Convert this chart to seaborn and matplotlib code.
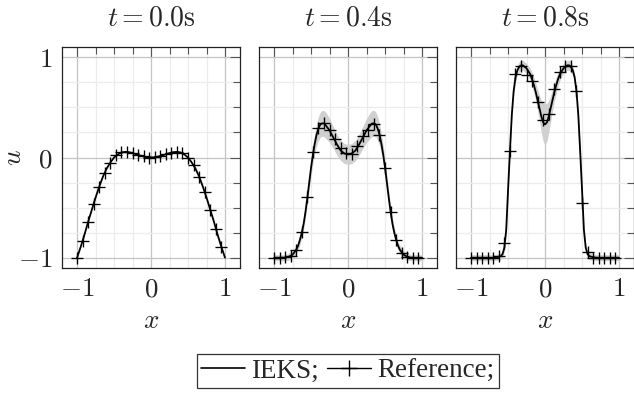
import numpy as np
import pandas as pd
import matplotlib
matplotlib.use("Agg")
import matplotlib.pyplot as plt
import seaborn as sns
from matplotlib.lines import Line2D
from matplotlib.ticker import MultipleLocator

# ==========================================================
# DATA
# ==========================================================

titles = [r"$t = 0.0\mathrm{s}$", r"$t = 0.4\mathrm{s}$", r"$t = 0.8\mathrm{s}$"]

# IEKS mean, t = 0.0s
x_t0 = [-1.0, -0.95, -0.9, -0.85, -0.8, -0.75, -0.7, -0.65, -0.6, -0.55, -0.5,
        -0.45, -0.4, -0.35, -0.3, -0.25, -0.2, -0.15, -0.1, -0.05, 0.0,
        0.05, 0.1, 0.15, 0.2, 0.25, 0.3, 0.35, 0.4, 0.45, 0.5,
        0.55, 0.6, 0.65, 0.7, 0.75, 0.8, 0.85, 0.9, 0.95, 1.0]
u_t0 = [-1.0, -0.89, -0.77, -0.64, -0.52, -0.4, -0.29, -0.19, -0.11, -0.05, 0.0,
        0.03, 0.05, 0.056, 0.053, 0.044, 0.032, 0.02, 0.01, 0.002, 0.0,
        0.002, 0.01, 0.02, 0.032, 0.044, 0.053, 0.056, 0.05, 0.03, 0.0,
        -0.05, -0.11, -0.19, -0.29, -0.4, -0.52, -0.64, -0.77, -0.89, -1.0]

# IEKS mean and band half-width, t = 0.4s
x_t4 = [-1.0, -0.95, -0.9, -0.85, -0.8, -0.75, -0.7, -0.675, -0.65, -0.625, -0.6,
        -0.575, -0.55, -0.525, -0.5, -0.475, -0.45, -0.425, -0.4, -0.375, -0.35,
        -0.325, -0.3, -0.25, -0.2, -0.15, -0.1, -0.05, 0.0,
        0.05, 0.1, 0.15, 0.2, 0.25, 0.3, 0.325, 0.35, 0.375, 0.4, 0.425, 0.45,
        0.475, 0.5, 0.525, 0.55, 0.575, 0.6, 0.625, 0.65, 0.675, 0.7, 0.75,
        0.8, 0.85, 0.9, 0.95, 1.0]
u_t4 = [-1.0, -1.0, -1.0, -1.0, -0.99, -0.97, -0.92, -0.88, -0.82, -0.75, -0.66,
        -0.54, -0.4, -0.25, -0.1, 0.03, 0.14, 0.23, 0.29, 0.33, 0.34,
        0.34, 0.32, 0.27, 0.2, 0.13, 0.07, 0.04, 0.03,
        0.04, 0.07, 0.13, 0.2, 0.27, 0.32, 0.34, 0.34, 0.33, 0.29, 0.23, 0.14,
        0.03, -0.1, -0.25, -0.4, -0.54, -0.66, -0.75, -0.82, -0.88, -0.92, -0.97,
        -0.99, -1.0, -1.0, -1.0, -1.0]
s_t4 = [0.03, 0.03, 0.03, 0.03, 0.035, 0.04, 0.045, 0.045, 0.05, 0.05, 0.055,
        0.06, 0.065, 0.07, 0.08, 0.09, 0.1, 0.11, 0.12, 0.125, 0.13,
        0.13, 0.13, 0.12, 0.11, 0.105, 0.1, 0.1, 0.1,
        0.1, 0.1, 0.105, 0.11, 0.12, 0.13, 0.13, 0.13, 0.125, 0.12, 0.11, 0.1,
        0.09, 0.08, 0.07, 0.065, 0.06, 0.055, 0.05, 0.05, 0.045, 0.045, 0.04,
        0.035, 0.03, 0.03, 0.03, 0.03]

# IEKS mean and band half-width, t = 0.8s
x_t8 = [-1.0, -0.9, -0.8, -0.7, -0.65, -0.6, -0.575, -0.55, -0.525, -0.5,
        -0.475, -0.45, -0.425, -0.4, -0.375, -0.35, -0.325, -0.3, -0.25, -0.2,
        -0.175, -0.15, -0.125, -0.1, -0.075, -0.05, -0.025, 0.0,
        0.025, 0.05, 0.075, 0.1, 0.125, 0.15, 0.175, 0.2, 0.25, 0.3, 0.325,
        0.35, 0.375, 0.4, 0.425, 0.45, 0.475, 0.5, 0.525, 0.55, 0.575, 0.6,
        0.65, 0.7, 0.8, 0.9, 1.0]
u_t8 = [-1.0, -1.0, -1.0, -1.0, -0.995, -0.985, -0.965, -0.9, -0.72, -0.32,
        0.06, 0.42, 0.66, 0.8, 0.87, 0.905, 0.92, 0.92, 0.89, 0.83,
        0.78, 0.72, 0.65, 0.57, 0.49, 0.41, 0.35, 0.33,
        0.35, 0.41, 0.49, 0.57, 0.65, 0.72, 0.78, 0.83, 0.89, 0.92, 0.92,
        0.905, 0.87, 0.8, 0.66, 0.42, 0.06, -0.32, -0.72, -0.9, -0.965, -0.985,
        -0.995, -1.0, -1.0, -1.0, -1.0]
s_t8 = [0.03, 0.03, 0.03, 0.03, 0.03, 0.035, 0.035, 0.04, 0.04, 0.045,
        0.045, 0.045, 0.045, 0.045, 0.045, 0.05, 0.05, 0.05, 0.05, 0.06,
        0.07, 0.08, 0.09, 0.11, 0.13, 0.16, 0.19, 0.21,
        0.19, 0.16, 0.13, 0.11, 0.09, 0.08, 0.07, 0.06, 0.05, 0.05, 0.05,
        0.05, 0.045, 0.045, 0.045, 0.045, 0.045, 0.045, 0.04, 0.04, 0.035, 0.035,
        0.03, 0.03, 0.03, 0.03, 0.03]

# Reference solution (marks)
x_ref = [-1.0, -0.925, -0.85, -0.775, -0.7, -0.625, -0.55, -0.475, -0.4,
         -0.325, -0.25, -0.175, -0.1, -0.025, 0.05, 0.125, 0.2, 0.275, 0.35,
         0.425, 0.5, 0.575, 0.65, 0.725, 0.8, 0.875, 0.95]
ref_t0 = [-1.0, -0.83, -0.64, -0.46, -0.29, -0.15, -0.05, 0.02, 0.05,
          0.055, 0.044, 0.026, 0.01, 0.0, 0.003, 0.014, 0.032, 0.049, 0.056,
          0.042, 0.0, -0.077, -0.19, -0.34, -0.52, -0.71, -0.89]
ref_t4 = [-1.0, -1.0, -0.99, -0.98, -0.92, -0.74, -0.39, 0.05, 0.29,
          0.34, 0.27, 0.18, 0.09, 0.04, 0.03, 0.11, 0.21, 0.27, 0.33,
          0.22, -0.1, -0.54, -0.82, -0.95, -0.99, -1.0, -1.0]
ref_t8 = [-1.0, -1.0, -1.0, -1.0, -1.0, -0.98, -0.85, 0.06, 0.83,
          0.91, 0.82, 0.76, 0.55, 0.37, 0.43, 0.68, 0.85, 0.91, 0.91,
          0.66, -0.45, -0.94, -1.0, -1.0, -1.0, -1.0, -1.0]

lines = [(x_t0, u_t0, None), (x_t4, u_t4, s_t4), (x_t8, u_t8, s_t8)]
refs = [ref_t0, ref_t4, ref_t8]

# ==========================================================
# STYLE
# ==========================================================

sns.set_style("white")
plt.rcParams["font.family"] = ["Liberation Serif", "DejaVu Serif"]
plt.rcParams["mathtext.fontset"] = "cm"
FS = 19.5

W, H = 634, 398
fig = plt.figure(figsize=(W / 100, H / 100), dpi=100)

lefts = [62.3, 259.3, 456.3]
ax_w = 177.5
ax_top, ax_bot = 47.3, 267.7

# ==========================================================
# PANELS
# ==========================================================

for i, (left, title) in enumerate(zip(lefts, titles)):
    ax = fig.add_axes([left / W, 1 - ax_bot / H, ax_w / W, (ax_bot - ax_top) / H])
    xs, us, ss = lines[i]
    df = pd.DataFrame({"x": xs, "u": us})
    df_ref = pd.DataFrame({"x": x_ref, "u": refs[i]})

    if ss is not None:
        lo = np.array(us) - np.array(ss)
        hi = np.array(us) + np.array(ss)
        ax.fill_between(xs, lo, hi, color="#d0d0d0", lw=0, zorder=2)

    sns.lineplot(data=df, x="x", y="u", ax=ax, color="black", lw=1.3,
                 estimator=None, zorder=3)
    sns.scatterplot(data=df_ref, x="x", y="u", ax=ax, marker="+", s=85,
                    color="black", linewidth=0.95, zorder=4)

    ax.set_xlim(-1.2, 1.2)
    ax.set_ylim(-1.1, 1.1)
    ax.set_xticks([-1, 0, 1])
    ax.set_xticklabels([r"$-1$", r"$0$", r"$1$"])
    ax.set_yticks([-1, 0, 1])
    if i == 0:
        ax.set_yticklabels([r"$-1$", r"$0$", r"$1$"])
        ax.set_ylabel(r"$u$", fontsize=FS)
        ax.yaxis.set_label_coords((27 - left) / ax_w, 0.5)
    else:
        ax.set_yticklabels([])
        ax.set_ylabel("")
    ax.xaxis.set_minor_locator(MultipleLocator(0.25))
    ax.yaxis.set_minor_locator(MultipleLocator(0.25))

    ax.grid(which="minor", color="#ececec", lw=0.9)
    ax.grid(which="major", color="#c4c4c4", lw=0.9)
    ax.set_axisbelow(True)

    ax.tick_params(which="both", direction="in", top=True, right=True,
                   color="#555555", width=0.8, labelsize=FS, pad=7)
    ax.tick_params(which="major", length=7)
    ax.tick_params(which="minor", length=5)

    for sp in ax.spines.values():
        sp.set_color("#222222")
        sp.set_linewidth(0.9)

    ax.set_xlabel(r"$x$", fontsize=FS, labelpad=5)
    ax.set_title(title, fontsize=FS + 0.5, pad=16)

# ==========================================================
# LEGEND
# ==========================================================

handles = [
    Line2D([], [], color="black", lw=1.2),
    Line2D([], [], color="black", lw=1.0, marker="+", markersize=11),
]
leg = fig.legend(handles, ["IEKS;", "Reference;"], loc="center",
                 bbox_to_anchor=(348 / W, 1 - 371 / H), ncol=2,
                 frameon=True, fancybox=False, edgecolor="black",
                 handlelength=1.6, handletextpad=0.25, columnspacing=0.3,
                 borderpad=0.15, fontsize=FS)
leg.get_frame().set_linewidth(0.9)

plt.savefig("out.png", dpi=100)
